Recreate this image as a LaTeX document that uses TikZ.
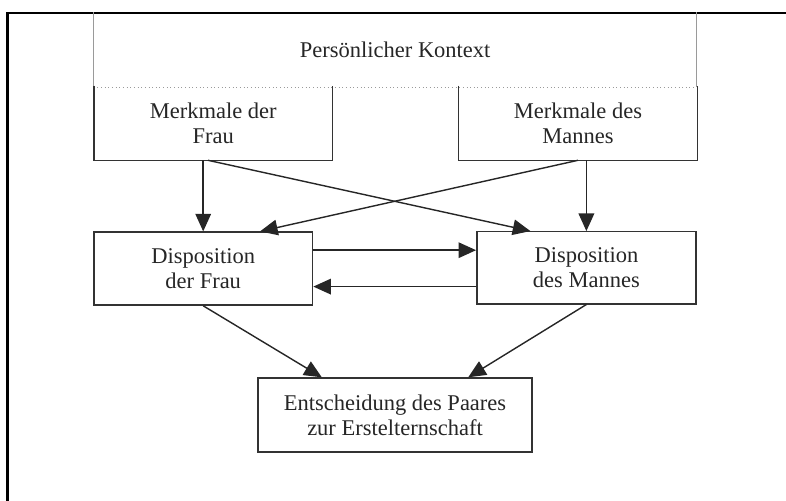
\documentclass[tikz,border=0pt]{standalone}
\usepackage{fontspec}
\setmainfont{Liberation Serif}
\usepackage{xcolor}
\usepackage{tikz}
\usetikzlibrary{arrows.meta,positioning,calc}

\definecolor{boxline}{HTML}{333333}
\definecolor{ctxline}{HTML}{9A9A9A}

\tikzset{
  box/.style={draw=boxline, line width=1pt, align=center, text=black!85,
    font=\fontsize{16}{17.8}\selectfont, inner sep=0pt},
  openbox/.style={box, draw=none},
  arr/.style={-{Triangle[length=4.4mm,width=3.9mm]}, line width=1pt, draw=black!85}
}

\begin{document}
\begin{tikzpicture}
\useasboundingbox (0,0) rectangle (19.65,12.525);

% Outer frame (cut off at the right and bottom)
\draw[line width=2.1pt] (0.19,-0.5) -- (0.19,12.2) -- (20,12.2);

% Context layer
\node[openbox, minimum width=15.04cm, minimum height=1.84cm] (kontext) at (9.88,11.28) {Persönlicher Kontext};
\draw[ctxline, line width=0.9pt] (kontext.north west) -- (kontext.south west);
\draw[ctxline, line width=0.9pt] (kontext.north east) -- (kontext.south east);
\draw[ctxline, line width=0.6pt, dotted] (kontext.south west) -- (kontext.south east);

% Characteristics layer
\node[openbox, minimum width=5.93cm, minimum height=1.83cm] (mfrau) at (5.33,9.45) {Merkmale der\\Frau};
\node[openbox, minimum width=5.95cm, minimum height=1.83cm] (mmann) at (14.45,9.45) {Merkmale des\\Mannes};
\draw[boxline, line width=1pt] (mfrau.north west) -- (mfrau.south west) -- (mfrau.south east) -- (mfrau.north east);
\draw[boxline, line width=1pt] (mmann.north west) -- (mmann.south west) -- (mmann.south east) -- (mmann.north east);

% Disposition layer
\node[box, minimum width=5.47cm, minimum height=1.825cm] (dfrau) at (5.08,5.81) {Disposition\\der Frau};
\node[box, minimum width=5.48cm, minimum height=1.8cm] (dmann) at (14.66,5.83) {Disposition\\des Mannes};

% Decision
\node[box, minimum width=6.85cm, minimum height=1.85cm] (entsch) at (9.875,2.15) {Entscheidung des Paares\\zur Ersteltern\-schaft};

% Connections
\draw[arr] (mfrau.south -| dfrau.north) -- (dfrau.north);
\draw[arr] (mmann.south -| dmann.north) -- (dmann.north);
\draw[arr] ([xshift=-0.13cm]mfrau.south) -- ([xshift=-1.4cm]dmann.north);
\draw[arr] (mmann.south) -- ([xshift=1.42cm]dfrau.north);
\draw[arr] ([yshift=0.46cm]dfrau.east) -- ([yshift=0.46cm]dfrau.east -| dmann.west);
\draw[arr] ([yshift=-0.45cm]dfrau.east -| dmann.west) -- ([yshift=-0.45cm]dfrau.east);
\draw[arr] (dfrau.south) -- ([xshift=-1.83cm]entsch.north);
\draw[arr] (dmann.south) -- ([xshift=1.83cm]entsch.north);
\end{tikzpicture}
\end{document}
